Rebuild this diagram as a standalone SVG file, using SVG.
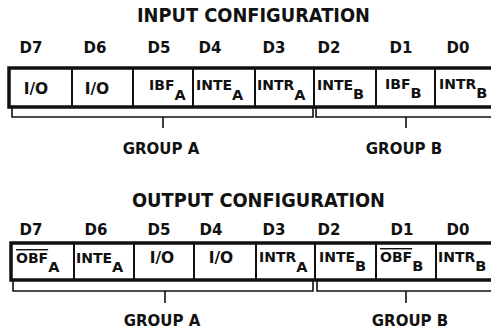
<svg xmlns="http://www.w3.org/2000/svg" width="491" height="333" viewBox="0 0 491 333">
<style>
text{font-family:"DejaVu Sans","Liberation Sans",sans-serif;font-weight:bold;fill:#111}
.title{font-size:19px;text-anchor:middle}
.bit{font-size:15px;text-anchor:middle}
.grp{font-size:15px;text-anchor:middle}
.lbl{font-size:14px}
.io{font-size:15.5px;text-anchor:middle}
.sub{font-size:14.5px}
.cell{fill:#fff;stroke:#111;stroke-width:2}
.outer{fill:none;stroke:#111;stroke-width:3.5}
.br{fill:none;stroke:#111;stroke-width:1.6}
.ov{text-decoration:overline}
</style>
<rect width="491" height="333" fill="#fff"/>

<g id="input-config">
<text class="title" x="253.5" y="22" textLength="233" lengthAdjust="spacingAndGlyphs">INPUT CONFIGURATION</text>
<g id="in-bits">
<text class="bit" x="31" y="53">D7</text>
<text class="bit" x="95" y="53">D6</text>
<text class="bit" x="159" y="53">D5</text>
<text class="bit" x="210" y="53">D4</text>
<text class="bit" x="274" y="53">D3</text>
<text class="bit" x="329" y="53">D2</text>
<text class="bit" x="401" y="53">D1</text>
<text class="bit" x="458" y="53">D0</text>
</g>
<g id="in-d7"><rect class="cell" x="9" y="68" width="63" height="39"/><text class="io" x="36" y="94">I/O</text></g>
<g id="in-d6"><rect class="cell" x="72" y="68" width="61" height="39"/><text class="io" x="97" y="94">I/O</text></g>
<g id="in-d5"><rect class="cell" x="133" y="68" width="60" height="39"/><text class="lbl" x="149" y="90">IBF<tspan class="sub" dy="9.5">A</tspan></text></g>
<g id="in-d4"><rect class="cell" x="193" y="68" width="62" height="39"/><text class="lbl" x="196" y="90">INTE<tspan class="sub" dy="9.5">A</tspan></text></g>
<g id="in-d3"><rect class="cell" x="255" y="68" width="59" height="39"/><text class="lbl" x="257" y="90">INTR<tspan class="sub" dy="9.5">A</tspan></text></g>
<g id="in-d2"><rect class="cell" x="314" y="68" width="62" height="39"/><text class="lbl" x="317" y="90">INTE<tspan class="sub" dy="9">B</tspan></text></g>
<g id="in-d1"><rect class="cell" x="376" y="68" width="59" height="39"/><text class="lbl" x="385" y="89">IBF<tspan class="sub" dy="8.5">B</tspan></text></g>
<g id="in-d0"><rect class="cell" x="435" y="68" width="62" height="39"/><text class="lbl" x="439" y="89">INTR<tspan class="sub" dy="8.5">B</tspan></text></g>
<rect class="outer" x="9" y="68" width="490" height="39"/>
<text class="grp" x="161" y="154">GROUP A</text>
<text class="grp" x="404" y="154">GROUP B</text>
</g>

<g id="output-config">
<text class="title" x="258.5" y="207" textLength="253" lengthAdjust="spacingAndGlyphs">OUTPUT CONFIGURATION</text>
<g id="out-bits">
<text class="bit" x="31" y="235">D7</text>
<text class="bit" x="96" y="235">D6</text>
<text class="bit" x="159" y="235">D5</text>
<text class="bit" x="211" y="235">D4</text>
<text class="bit" x="274" y="235">D3</text>
<text class="bit" x="329" y="235">D2</text>
<text class="bit" x="402" y="235">D1</text>
<text class="bit" x="458" y="235">D0</text>
</g>
<g id="out-d7"><rect class="cell" x="11" y="243" width="63" height="37"/><text class="lbl" x="16" y="263"><tspan class="ov">OBF</tspan><tspan class="sub" dy="9">A</tspan></text></g>
<g id="out-d6"><rect class="cell" x="74" y="243" width="60" height="37"/><text class="lbl" x="76" y="263">INTE<tspan class="sub" dy="9">A</tspan></text></g>
<g id="out-d5"><rect class="cell" x="134" y="243" width="60" height="37"/><text class="io" x="162" y="263">I/O</text></g>
<g id="out-d4"><rect class="cell" x="194" y="243" width="62" height="37"/><text class="io" x="221" y="263">I/O</text></g>
<g id="out-d3"><rect class="cell" x="256" y="243" width="59" height="37"/><text class="lbl" x="259" y="262">INTR<tspan class="sub" dy="10">A</tspan></text></g>
<g id="out-d2"><rect class="cell" x="315" y="243" width="61" height="37"/><text class="lbl" x="319" y="262">INTE<tspan class="sub" dy="9">B</tspan></text></g>
<g id="out-d1"><rect class="cell" x="376" y="243" width="60" height="37"/><text class="lbl" x="380" y="262"><tspan class="ov">OBF</tspan><tspan class="sub" dy="8.5">B</tspan></text></g>
<g id="out-d0"><rect class="cell" x="436" y="243" width="61" height="37"/><text class="lbl" x="438" y="262">INTR<tspan class="sub" dy="8.5">B</tspan></text></g>
<rect class="outer" x="11" y="243" width="490" height="37"/>
<text class="grp" x="162" y="326">GROUP A</text>
<text class="grp" x="410" y="326">GROUP B</text>
</g>

<g id="connectors">
<path class="br" d="M12 107 V117 H313 V107"/>
<path class="br" d="M316 107 V117 H497"/>
<path class="br" d="M163 117 V128"/>
<path class="br" d="M406 117 V128"/>
<path class="br" d="M13 280 V291 H313 V280"/>
<path class="br" d="M317 280 V291 H497"/>
<path class="br" d="M165 291 V303"/>
<path class="br" d="M406 291 V303"/>
</g>
</svg>
